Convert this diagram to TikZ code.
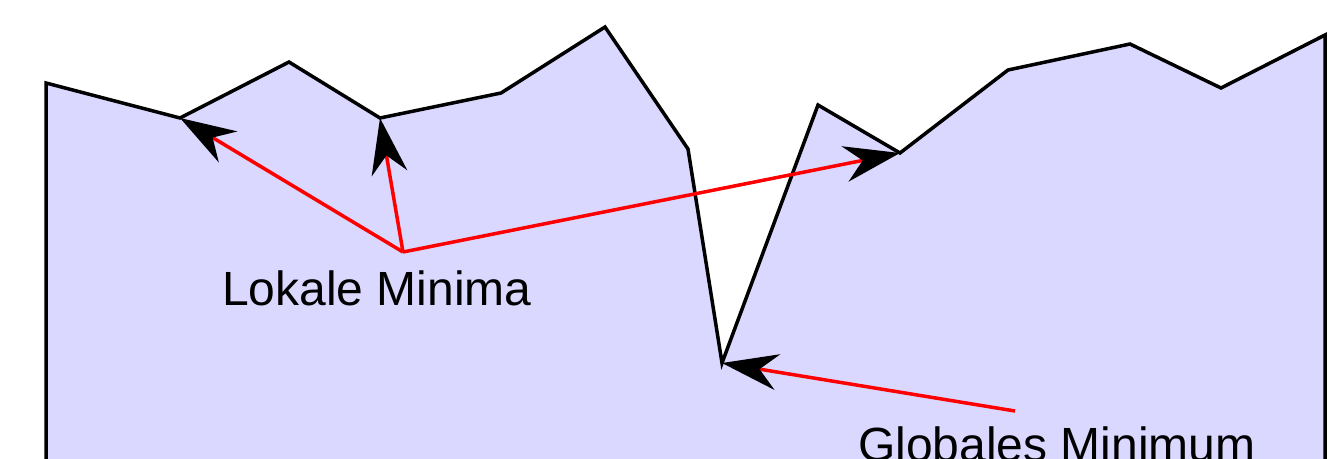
\documentclass[tikz,border=0pt]{standalone}
\usepackage{fontspec}
\setmainfont{Liberation Sans}
\usetikzlibrary{arrows.meta}
\definecolor{lavender}{RGB}{218,216,255}
\definecolor{arrowred}{RGB}{255,0,0}
\tikzset{
  landscape/.style={fill=lavender, draw=black, line width=3.5pt, line join=miter},
  pointer/.style={draw=arrowred, line width=3.5pt,
    -{Stealth[black, length=56pt, width=36pt, inset=18pt]}},
  label/.style={font=\fontsize{48}{56}\selectfont, inner sep=0pt, text=black}
}
\begin{document}
\begin{tikzpicture}[x=1pt, y=-1pt]
\useasboundingbox (0,0) rectangle (1338,458);
\clip (0,0) rectangle (1338,458);
% landscape
\coordinate (p1) at (46,83);
\coordinate (p2) at (180,118);
\coordinate (p3) at (289,62);
\coordinate (p4) at (380,118);
\coordinate (p5) at (501,93);
\coordinate (p6) at (605,27);
\coordinate (p7) at (688,149);
\coordinate (p8) at (722,363);
\coordinate (p9) at (818,105);
\coordinate (p10) at (900,153);
\coordinate (p11) at (1008,70);
\coordinate (p12) at (1130,44);
\coordinate (p13) at (1221,88);
\coordinate (p14) at (1325,35);
\filldraw[landscape] (46,520) -- (p1) -- (p2) -- (p3) -- (p4) -- (p5) -- (p6) -- (p7)
  -- (p8) -- (p9) -- (p10) -- (p11) -- (p12) -- (p13) -- (p14) -- (1325,520) -- cycle;
% labels
\node[label, anchor=base west] (lokal) at (222,305) {Lokale Minima};
\node[label, anchor=base west] (global) at (858,461) {Globales Minimum};
% pointers
\coordinate (lo) at (403,252);
\coordinate (go) at (1015,411);
\draw[pointer] (lo) -- (p2);
\draw[pointer] (lo) -- (p4);
\draw[pointer] (lo) -- (p10);
\draw[pointer] (go) -- (p8);
\end{tikzpicture}
\end{document}
